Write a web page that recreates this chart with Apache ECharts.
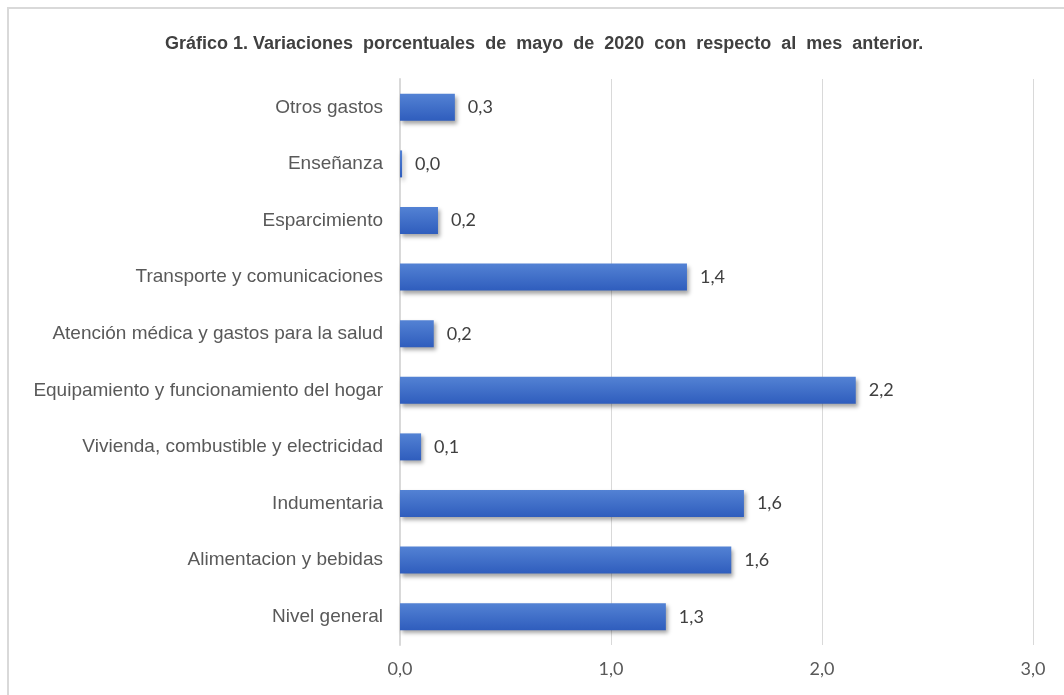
<!DOCTYPE html>
<html>
<head>
<meta charset="utf-8">
<script src="https://cdn.jsdelivr.net/npm/echarts@6/dist/echarts.min.js"></script>
<style>
  html, body { margin: 0; padding: 0; background: #fff; }
  #chart { width: 1064px; height: 695px; }
</style>
</head>
<body>
<div id="chart"></div>
<script>
// categories bottom -> top (category axis on y starts at bottom)
const categories = [
  'Nivel general',
  'Alimentacion y bebidas',
  'Indumentaria',
  'Vivienda, combustible y electricidad',
  'Equipamiento y funcionamiento del hogar',
  'Atención médica y gastos para la salud',
  'Transporte y comunicaciones',
  'Esparcimiento',
  'Enseñanza',
  'Otros gastos'
];
const values = [1.26, 1.57, 1.63, 0.10, 2.16, 0.16, 1.36, 0.18, 0.01, 0.26];
const xTicks = [0, 1, 2, 3];

const chart = echarts.init(document.getElementById('chart'));

const fmt = v => v.toFixed(1).replace('.', ',');

const option = {
  animation: false,
  title: {
    text: 'Gráfico 1. Variaciones  porcentuales  de  mayo  de  2020  con  respecto  al  mes  anterior.',
    left: 160,
    top: 30,
    textStyle: {
      fontFamily: 'Liberation Sans, Arial, sans-serif',
      fontSize: 18,
      fontWeight: 'bold',
      color: '#404040'
    }
  },
  graphic: [{
    type: 'rect',
    shape: { x: 8, y: 8, width: 1100, height: 750 },
    style: { fill: 'none', stroke: '#d9d9d9', lineWidth: 2 },
    silent: true
  }],
  grid: { left: 400, right: 31, top: 79, bottom: 50 },
  xAxis: {
    type: 'value',
    min: xTicks[0],
    max: xTicks[xTicks.length - 1],
    interval: 1,
    axisLine: { show: false },
    axisTick: { show: false },
    splitLine: { lineStyle: { color: '#d9d9d9', width: 1 } },
    axisLabel: {
      margin: 15,
      fontFamily: 'Lato, Open Sans, sans-serif',
      fontSize: 18,
      color: '#595959',
      formatter: v => fmt(v)
    }
  },
  yAxis: {
    type: 'category',
    data: categories,
    axisLine: { show: true, lineStyle: { color: '#d9d9d9', width: 2 } },
    axisTick: { show: false },
    axisLabel: {
      margin: 17,
      fontFamily: 'Liberation Sans, Arial, sans-serif',
      fontSize: 19,
      color: '#595959'
    }
  },
  series: [{
    type: 'bar',
    data: values,
    barWidth: 27,
    itemStyle: {
      color: new echarts.graphic.LinearGradient(0, 0, 0, 1, [
        { offset: 0, color: '#5382d4' },
        { offset: 1, color: '#2f5dbd' }
      ]),
      shadowColor: 'rgba(0,0,0,0.35)',
      shadowBlur: 4,
      shadowOffsetX: 2,
      shadowOffsetY: 3
    },
    label: {
      show: true,
      position: 'right',
      distance: 13,
      fontFamily: 'Lato, Open Sans, sans-serif',
      fontSize: 18,
      color: '#404040',
      formatter: p => fmt(p.value)
    }
  }]
};

chart.setOption(option);
</script>
</body>
</html>
